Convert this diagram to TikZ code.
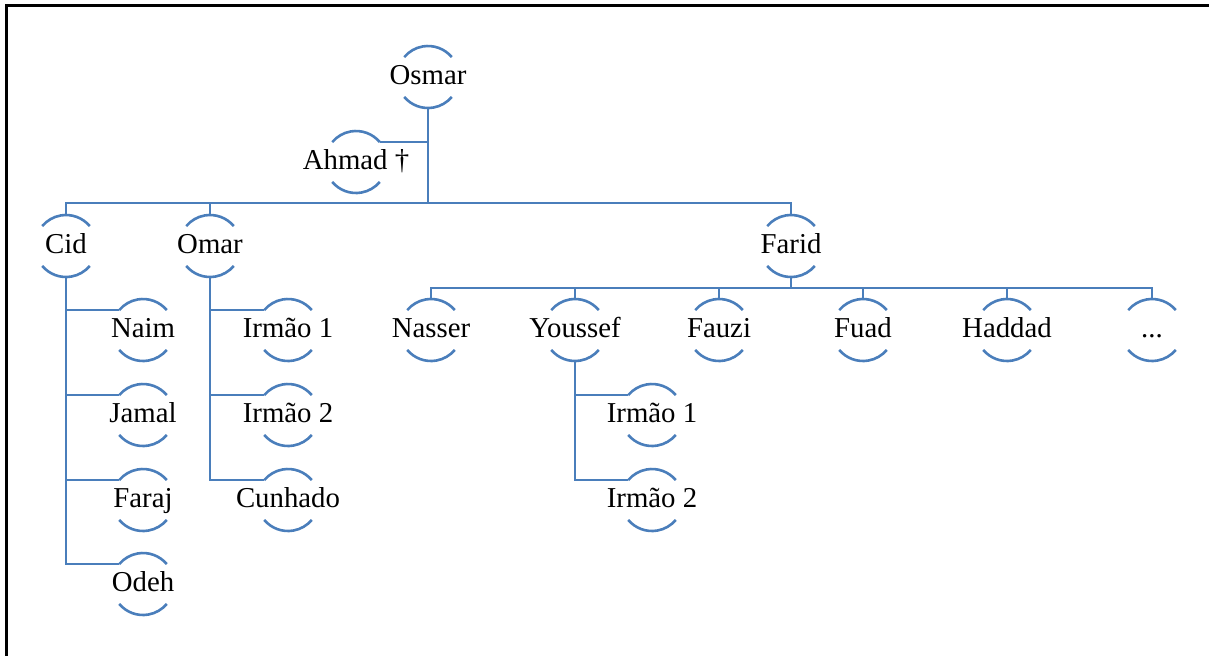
\documentclass[tikz,border=0pt]{standalone}
\usepackage{fontspec}
\setmainfont{Liberation Serif}
\definecolor{treeblue}{RGB}{74,126,187}

\begin{document}
\begin{tikzpicture}[x=0.5pt,y=-0.5pt,
  member/.style={circle,minimum size=31pt,inner sep=0pt,outer sep=0pt,
    label={[font=\fontsize{14.4}{17}\selectfont,text height=10.5pt,text depth=3pt,inner sep=0pt]center:#1}},
  link/.style={draw=treeblue,line width=1.3pt}]
\useasboundingbox (0,0) rectangle (1209,655);
\draw[line width=1.5pt] (6,670) -- (6,5) -- (1220,5);
% top of the tree
\node[member=Osmar] (osmar) at (428,77) {};
\node[member={Ahmad \dag}] (ahmad) at (356,162) {};
\node[member=Cid] (cid) at (66,246) {};
\node[member=Omar] (omar) at (210,246) {};
\node[member=Farid] (farid) at (791,246) {};
% Cid
\node[member=Naim] (naim) at (143,330) {};
\node[member=Jamal] (jamal) at (143,415) {};
\node[member=Faraj] (faraj) at (143,500) {};
\node[member=Odeh] (odeh) at (143,584) {};
% Omar
\node[member={Irmão 1}] (omarA) at (288,330) {};
\node[member={Irmão 2}] (omarB) at (288,415) {};
\node[member=Cunhado] (cunhado) at (288,500) {};
% Farid
\node[member=Nasser] (nasser) at (431,330) {};
\node[member=Youssef] (youssef) at (575,330) {};
\node[member=Fauzi] (fauzi) at (719,330) {};
\node[member=Fuad] (fuad) at (863,330) {};
\node[member=Haddad] (haddad) at (1007,330) {};
\node[member=...] (more) at (1152,330) {};
% Youssef
\node[member={Irmão 1}] (youssefA) at (652,415) {};
\node[member={Irmão 2}] (youssefB) at (652,500) {};

\coordinate (bus1) at (428,203);
\coordinate (bus2) at (791,288);

\foreach \n in {osmar,ahmad,cid,omar,farid,naim,jamal,faraj,odeh,omarA,omarB,cunhado,
  nasser,youssef,fauzi,fuad,haddad,more,youssefA,youssefB}
  \draw[link] (\n.40) arc (40:140:15.5pt) (\n.220) arc (220:320:15.5pt);

\draw[link] (osmar.south) -- (bus1);
\draw[link] (ahmad.40) -- (ahmad.40 -| osmar.south);
\foreach \n in {cid,omar,farid} \draw[link] (bus1) -| (\n.north);
\foreach \n in {naim,jamal,faraj,odeh} \draw[link] (cid.south) |- (\n.140);
\foreach \n in {omarA,omarB,cunhado} \draw[link] (omar.south) |- (\n.140);
\draw[link] (farid.south) -- (bus2);
\foreach \n in {nasser,youssef,fauzi,fuad,haddad,more} \draw[link] (bus2) -| (\n.north);
\foreach \n in {youssefA,youssefB} \draw[link] (youssef.south) |- (\n.140);
\end{tikzpicture}
\end{document}
